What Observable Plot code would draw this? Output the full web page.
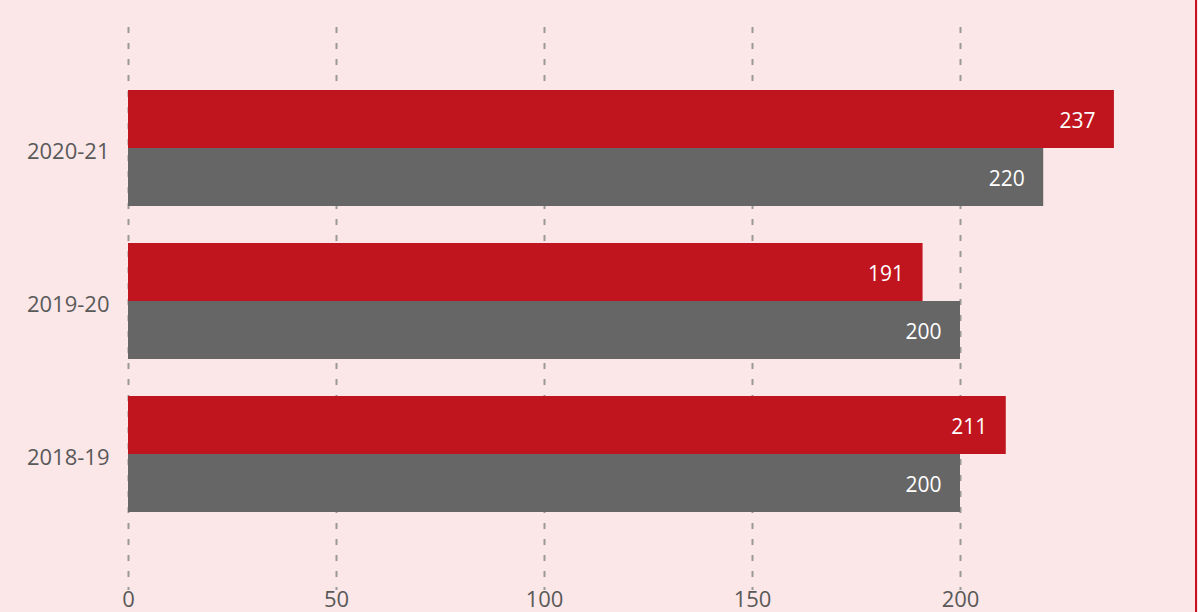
<!DOCTYPE html>
<html>
<head>
<meta charset="utf-8">
<script src="https://cdn.jsdelivr.net/npm/d3@7"></script>
<script src="https://cdn.jsdelivr.net/npm/@observablehq/plot@0.6"></script>
<style>
  html, body { margin: 0; padding: 0; background: #fbe7e7; }
  #wrap { position: relative; width: 1198px; height: 612px; overflow: hidden; background: #fbe7e7; }
  #edge { position: absolute; top: 0; right: 1px; width: 2px; height: 612px; background: #c8141e; }
  svg { font-family: "Open Sans", "Noto Sans", sans-serif; }
</style>
</head>
<body>
<div id="wrap"><div id="edge"></div></div>
<script>
const years = ["2020-21", "2019-20", "2018-19"];
const redValues = [237, 191, 211];
const grayValues = [220, 200, 200];
const xTicks = [0, 50, 100, 150, 200];

const red = years.map((y, i) => ({year: y, value: redValues[i]}));
const gray = years.map((y, i) => ({year: y, value: grayValues[i]}));

const chart = Plot.plot({
  width: 1198,
  height: 612,
  marginLeft: 128,
  marginRight: 30,
  marginTop: 27,
  marginBottom: 22,
  style: {background: "transparent", fontFamily: "'Open Sans', 'Noto Sans', sans-serif"},
  x: {domain: [0, 250], ticks: xTicks, label: null},
  y: {domain: years, paddingInner: 0.244, paddingOuter: 0.456, align: 0.443, label: null},
  marks: [
    Plot.ruleX(xTicks, {stroke: "#9a9a9a", strokeWidth: 2, strokeDasharray: "6,10"}),
    Plot.barX(red, {x: "value", y: "year", fill: "#c0141f", insetBottom: 58, insetTop: 0}),
    Plot.barX(gray, {x: "value", y: "year", fill: "#666666", insetTop: 58, insetBottom: 0}),
    Plot.text(red, {x: "value", y: "year", text: d => String(d.value), dy: -27, dx: -19, textAnchor: "end", fill: "white", fontSize: 21}),
    Plot.text(gray, {x: "value", y: "year", text: d => String(d.value), dy: 31, dx: -19, textAnchor: "end", fill: "white", fontSize: 21}),
    Plot.axisX({ticks: xTicks, tickSize: 0, tickPadding: 1, fontSize: 22, color: "#595959", label: null}),
    Plot.axisY({tickSize: 0, tickPadding: 19, fontSize: 22, dy: 3, color: "#595959", label: null})
  ]
});
document.getElementById("wrap").prepend(chart);
</script>
</body>
</html>
